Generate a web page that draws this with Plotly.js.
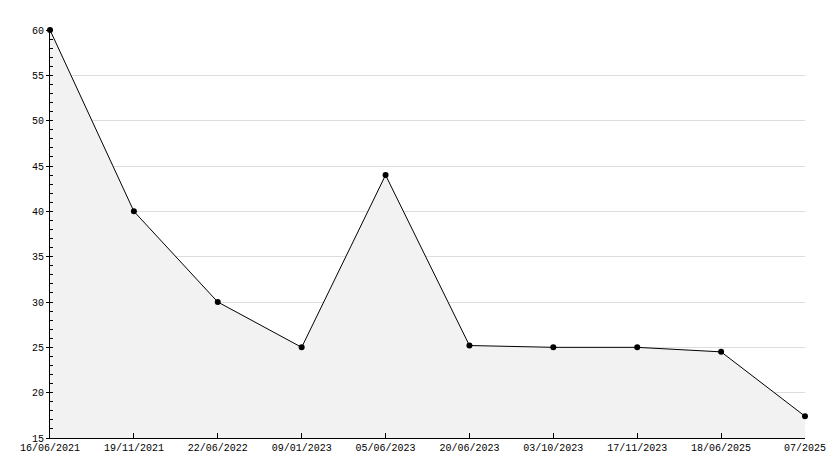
<!DOCTYPE html>
<html><head><meta charset="utf-8">
<script src="https://cdn.plot.ly/plotly-3.0.1.min.js"></script>
<style>html,body{margin:0;padding:0;background:#fff}#c{width:834px;height:468px}</style>
</head><body><div id="c"></div>
<script>
var dates = ["16/06/2021","19/11/2021","22/06/2022","09/01/2023","05/06/2023","20/06/2023","03/10/2023","17/11/2023","18/06/2025","07/2025"];
var values = [60, 40, 30, 25, 44, 25.2, 25, 25, 24.5, 17.4];
var yTicks = [15, 20, 25, 30, 35, 40, 45, 50, 55, 60];

var FONT = 'Liberation Mono, DejaVu Sans Mono, monospace';
var trace = {
  x: dates, y: values, type: 'scatter', mode: 'lines+markers',
  fill: 'tozeroy', fillcolor: '#f2f2f2',
  line: {color: '#000', width: 1},
  marker: {color: '#000', size: 6, symbol: 'circle'},
  cliponaxis: false,
  hoverinfo: 'x+y'
};
var layout = {
  width: 834, height: 468,
  margin: {l: 50, r: 29, t: 30, b: 30},
  paper_bgcolor: '#fff', plot_bgcolor: '#fff',
  showlegend: false,
  font: {family: FONT, size: 10, color: '#000'},
  xaxis: {
    type: 'category', range: [0, dates.length - 1],
    showgrid: false, zeroline: false,
    showline: true, linecolor: '#000', linewidth: 1,
    ticks: 'inside', ticklen: 5, tickcolor: '#000',
    tickfont: {family: FONT, size: 10, color: '#000'}
  },
  yaxis: {
    range: [15, 60], tickvals: yTicks, ticktext: yTicks.map(String),
    showgrid: true, gridcolor: '#dddddd', gridwidth: 1, zeroline: false,
    showline: true, linecolor: '#000', linewidth: 1,
    ticks: 'outside', ticklen: 3, tickcolor: '#000',
    tickfont: {family: FONT, size: 10, color: '#000'},
    minor: {dtick: 1, ticks: 'inside', ticklen: 3, tickcolor: '#000', showgrid: false}
  }
};
Plotly.newPlot('c', [trace], layout, {staticPlot: true, displayModeBar: false});
</script></body></html>
